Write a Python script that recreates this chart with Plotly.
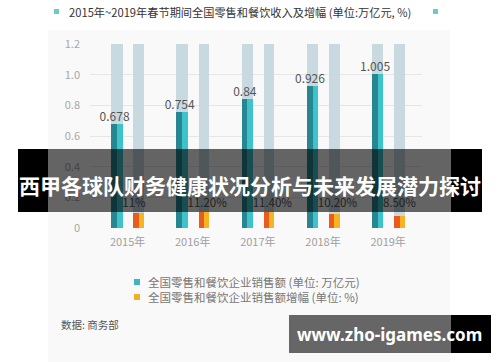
import plotly.graph_objects as go

# ---- data ----
years = ["2015年", "2016年", "2017年", "2018年", "2019年"]
sales = [0.678, 0.754, 0.84, 0.926, 1.005]          # 万亿元
growth = [11.0, 11.2, 11.4, 10.2, 8.5]              # %
growth_labels = ["11%", "11.20%", "11.40%", "10.20%", "8.50%"]
sales_labels = ["0.678", "0.754", "0.84", "0.926", "1.005"]
y_ticks = [0, 0.2, 0.4, 0.6, 0.8, 1.0, 1.2]
y_ticktext = ["0", "0.2", "0.4", "0.6", "0.8", "1.0", "1.2"]

YMAX = 1.2
FONT = "Noto Sans CJK SC"
idx = list(range(len(years)))

# plot area in pixels
L, R, T, B = 90, 422, 44, 228
W, H = 500, 362


def px(x):
    return (x - L) / (R - L)


def py(y):
    return (B - y) / (B - T)


fig = go.Figure()

track = "#c9d9e0"
# background tracks
fig.add_trace(go.Bar(x=idx, y=[YMAX] * len(idx), offset=-0.25, width=0.175,
                     marker=dict(color=track, line_width=0), hoverinfo="skip"))
fig.add_trace(go.Bar(x=idx, y=[YMAX] * len(idx), offset=0.09, width=0.165,
                     marker=dict(color=track, line_width=0), hoverinfo="skip"))
# teal bars (two tones)
fig.add_trace(go.Bar(x=idx, y=sales, offset=-0.25, width=0.09,
                     marker=dict(color="#27868f", line_width=0)))
fig.add_trace(go.Bar(x=idx, y=sales, offset=-0.16, width=0.085,
                     marker=dict(color="#3cc3cb", line_width=0)))
# orange bars (two tones) on secondary axis
fig.add_trace(go.Bar(x=idx, y=growth, offset=0.09, width=0.085, yaxis="y2",
                     marker=dict(color="#ea5c1c", line_width=0)))
fig.add_trace(go.Bar(x=idx, y=growth, offset=0.175, width=0.08, yaxis="y2",
                     marker=dict(color="#f6b324", line_width=0)))

# value labels
fig.add_trace(go.Scatter(x=[i - 0.2 for i in idx], y=sales, mode="text",
                         text=sales_labels, textposition="top center",
                         textfont=dict(family=FONT, size=12, color="#555555"),
                         hoverinfo="skip"))
# growth labels
fig.add_trace(go.Scatter(x=[i - 0.08 for i in idx], y=[0.155] * len(idx), mode="text",
                         text=growth_labels, textposition="middle right",
                         textfont=dict(family=FONT, size=11.5, color="#555555"),
                         hoverinfo="skip"))

shapes = [
    # faint image background
    dict(type="rect", xref="paper", yref="paper", x0=px(48), x1=px(450),
         y0=py(30), y1=py(362), fillcolor="#f9f9f9", line_width=0, layer="below"),
    # title markers
    dict(type="rect", xref="paper", yref="paper", x0=px(54), x1=px(59),
         y0=py(14), y1=py(9), fillcolor="#6ecac2", line_width=0),
    dict(type="rect", xref="paper", yref="paper", x0=px(433), x1=px(438),
         y0=py(14), y1=py(9), fillcolor="#6ecac2", line_width=0),
    # legend markers
    dict(type="rect", xref="paper", yref="paper", x0=px(134), x1=px(140),
         y0=py(285), y1=py(279), fillcolor="#3ab7c1", line_width=0),
    dict(type="rect", xref="paper", yref="paper", x0=px(134), x1=px(140),
         y0=py(300), y1=py(294), fillcolor="#f2b321", line_width=0),
    # banner
    dict(type="rect", xref="paper", yref="paper", x0=px(18), x1=px(48),
         y0=py(212), y1=py(149), fillcolor="#000000", line_width=0, layer="above"),
    dict(type="rect", xref="paper", yref="paper", x0=px(451), x1=px(482),
         y0=py(212), y1=py(149), fillcolor="#000000", line_width=0, layer="above"),
    dict(type="rect", xref="paper", yref="paper", x0=px(48), x1=px(451),
         y0=py(212), y1=py(149), fillcolor="rgba(0,0,0,0.6)", line_width=0, layer="above"),
    # watermark box
    dict(type="rect", xref="paper", yref="paper", x0=px(289), x1=px(451),
         y0=py(353), y1=py(315), fillcolor="#666666", line_width=0, layer="above"),
    dict(type="rect", xref="paper", yref="paper", x0=px(451), x1=px(491),
         y0=py(353), y1=py(315), fillcolor="#000000", line_width=0, layer="above"),
]

annotations = [
    dict(text="2015年~2019年春节期间全国零售和餐饮收入及增幅 (单位:万亿元, %)",
         x=px(67), y=py(12), xref="paper", yref="paper", showarrow=False,
         xanchor="left", yanchor="middle",
         font=dict(family=FONT, size=11.2, color="#333333")),
    dict(text="全国零售和餐饮企业销售额 (单位: 万亿元)", x=px(146), y=py(282),
         xref="paper", yref="paper", showarrow=False, xanchor="left", yanchor="middle",
         font=dict(family=FONT, size=11.5, color="#777777")),
    dict(text="全国零售和餐饮企业销售额增幅 (单位: %)", x=px(146), y=py(297),
         xref="paper", yref="paper", showarrow=False, xanchor="left", yanchor="middle",
         font=dict(family=FONT, size=11.5, color="#777777")),
    dict(text="数据: 商务部", x=px(59), y=py(324),
         xref="paper", yref="paper", showarrow=False, xanchor="left", yanchor="middle",
         font=dict(family=FONT, size=10.5, color="#555555")),
    dict(text="<b>西甲各球队财务健康状况分析与未来发展潜力探讨</b>", x=px(250), y=py(185),
         xref="paper", yref="paper", showarrow=False, xanchor="center", yanchor="middle",
         font=dict(family=FONT, size=21, color="#ffffff")),
    dict(text="<b>www.zho-igames.com</b>", x=px(389), y=py(334),
         xref="paper", yref="paper", showarrow=False, xanchor="center", yanchor="middle",
         font=dict(family="Noto Sans", size=17, color="#ffffff")),
]

fig.update_layout(
    width=W, height=H,
    margin=dict(l=L, r=W - R, t=T, b=H - B),
    paper_bgcolor="#ffffff", plot_bgcolor="rgba(0,0,0,0)",
    barmode="overlay", bargap=0, showlegend=False,
    xaxis=dict(range=[-0.577, 4.52], tickvals=idx, ticktext=years,
               showgrid=False, zeroline=False, showline=False, ticks="",
               ticklabelstandoff=6,
               tickfont=dict(family=FONT, size=11, color="#a0a0a0")),
    yaxis=dict(range=[0, YMAX], tickvals=y_ticks, ticktext=y_ticktext,
               showgrid=True, gridcolor="#e6e6e6", gridwidth=1, zeroline=False,
               showline=False, ticks="", ticklabelstandoff=9,
               tickfont=dict(family=FONT, size=11, color="#a8a8a8")),
    yaxis2=dict(range=[0, 132], overlaying="y", visible=False),
    shapes=shapes, annotations=annotations,
)

fig.write_html("out.html", config={"displayModeBar": False},
               post_script="document.body.style.margin='0';document.body.style.padding='0';")
